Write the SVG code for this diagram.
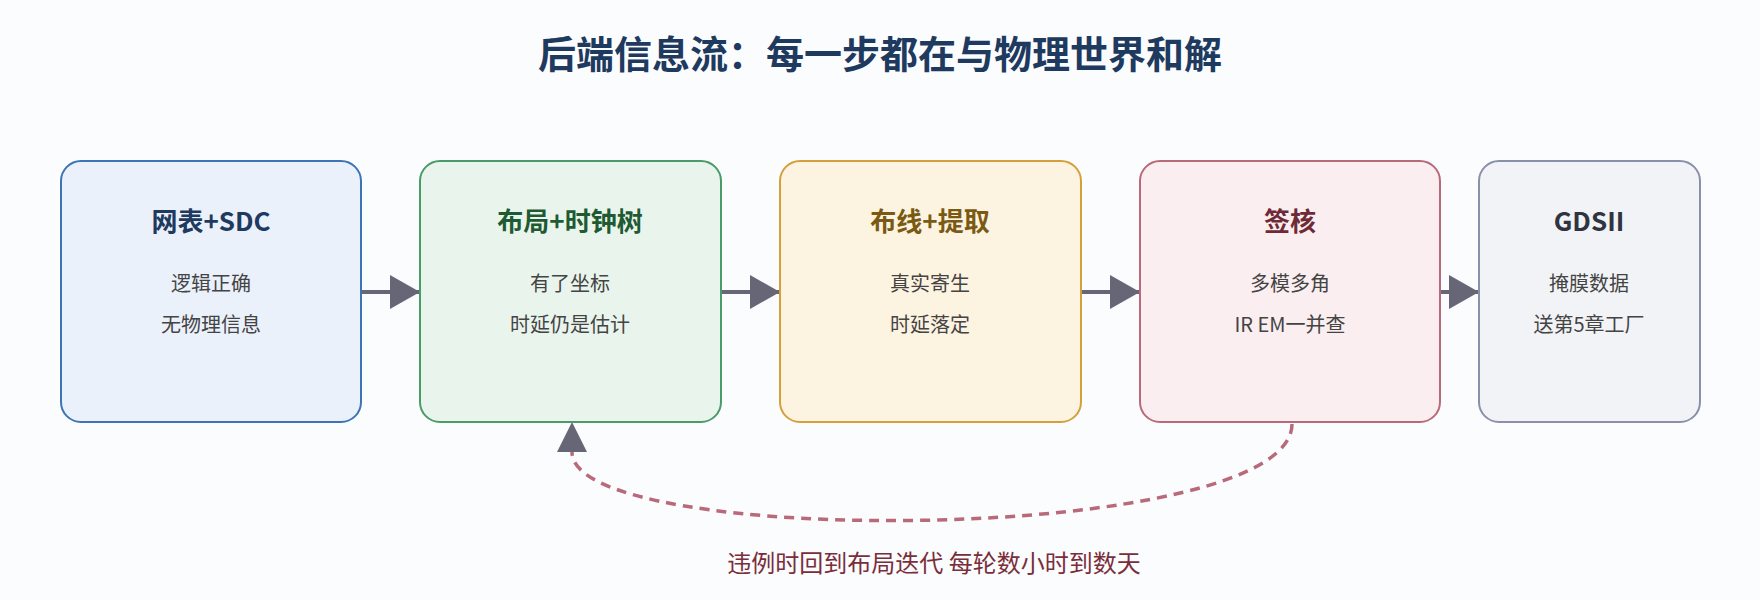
<svg xmlns="http://www.w3.org/2000/svg" width="1760" height="600" viewBox="0 0 1760 600">
<style>
text{font-family:"Noto Sans CJK SC","Noto Sans",sans-serif;text-anchor:middle}
.t{font-size:26px;font-weight:bold}
.b{font-size:20px;fill:#444}
.box{stroke-width:2}
</style>
<defs>
<marker id="big" viewBox="0 0 10 10" refX="10" refY="5" markerWidth="30" markerHeight="34" orient="auto" markerUnits="userSpaceOnUse" preserveAspectRatio="none"><path d="M0,0L10,5L0,10Z" fill="#676676"/></marker>
</defs>
<rect width="1760" height="600" fill="#fbfcfe"/>
<text x="880" y="68" style="font-size:38px;font-weight:bold;fill:#1f3a5f">后端信息流：每一步都在与物理世界和解</text>
<g id="connectors">
<g stroke="#676676" stroke-width="4" fill="none">
<path d="M361,292H420" marker-end="url(#big)"/>
<path d="M721,292H780" marker-end="url(#big)"/>
<path d="M1081,292H1140" marker-end="url(#big)"/>
<path d="M1440,292H1479" marker-end="url(#big)"/>
</g>
<path d="M1292,424C1292,545 572,550 572,452" fill="none" stroke="#b86a7a" stroke-width="3.5" stroke-dasharray="10,7"/>
<path d="M572,422L557,452H587Z" fill="#676676"/>
<text x="934" y="572" style="font-size:24px;fill:#7a2e3a">违例时回到布局迭代 每轮数小时到数天</text>
</g>
<g id="n1"><rect class="box" x="61" y="161" width="300" height="261" rx="20" fill="#eaf1fb" stroke="#3d74b4"/>
<text class="t" x="211" y="231" fill="#1f3a5f">网表+SDC</text><text class="b" x="211" y="291">逻辑正确</text><text class="b" x="211" y="332">无物理信息</text></g>
<g id="n2"><rect class="box" x="420" y="161" width="301" height="261" rx="20" fill="#e9f5ec" stroke="#4a9a6a"/>
<text class="t" x="570" y="231" fill="#1e5a32">布局+时钟树</text><text class="b" x="570" y="291">有了坐标</text><text class="b" x="570" y="332">时延仍是估计</text></g>
<g id="n3"><rect class="box" x="780" y="161" width="301" height="261" rx="20" fill="#fdf3e1" stroke="#d4a03c"/>
<text class="t" x="930" y="231" fill="#7a5a12">布线+提取</text><text class="b" x="930" y="291">真实寄生</text><text class="b" x="930" y="332">时延落定</text></g>
<g id="n4"><rect class="box" x="1140" y="161" width="300" height="261" rx="20" fill="#fbeef0" stroke="#b86a7a"/>
<text class="t" x="1290" y="231" fill="#6e2a36">签核</text><text class="b" x="1290" y="291">多模多角</text><text class="b" x="1290" y="332">IR EM一并查</text></g>
<g id="n5"><rect class="box" x="1479" y="161" width="221" height="261" rx="20" fill="#f2f3f7" stroke="#8a90aa"/>
<text class="t" x="1589" y="231" fill="#2f3440">GDSII</text><text class="b" x="1589" y="291">掩膜数据</text><text class="b" x="1589" y="332">送第5章工厂</text></g>
</svg>
